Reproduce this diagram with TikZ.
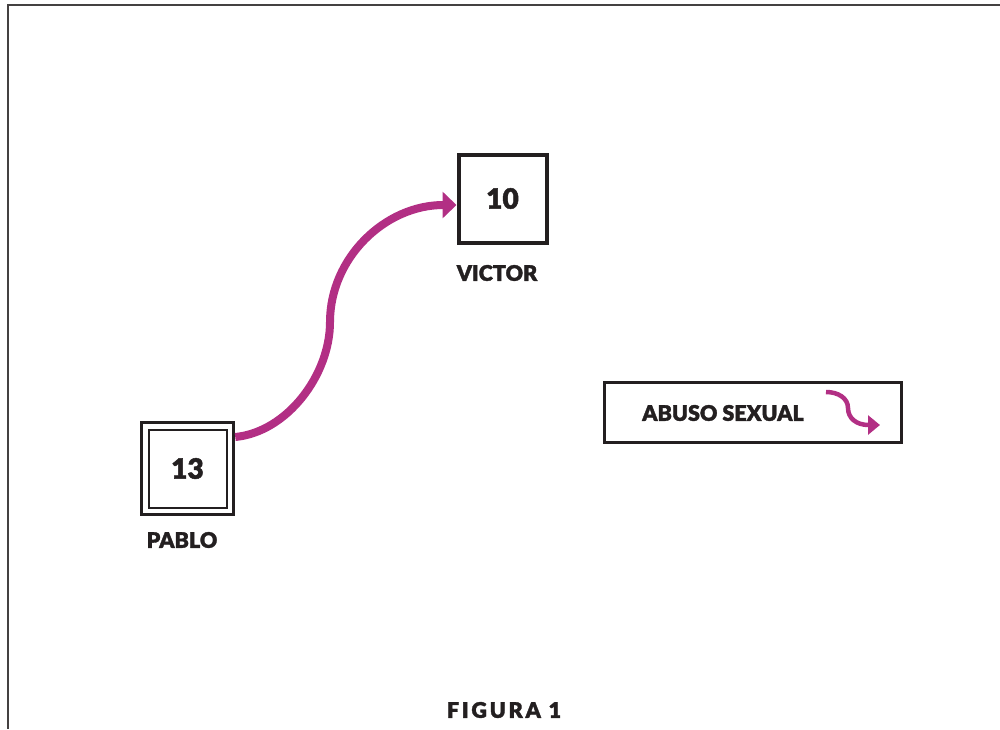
\documentclass[tikz,border=0pt]{standalone}
\usepackage{fontspec}
\setmainfont{Lato}[BoldFont={Lato Black}, BoldFeatures={FakeBold=1.6}]
\usetikzlibrary{arrows.meta}
\definecolor{ink}{HTML}{231F20}
\definecolor{abuse}{HTML}{B22F84}
\tikzset{
  person/.style={draw=ink, line width=4pt, minimum size=88pt, inner sep=0pt,
    font=\bfseries\fontsize{28}{33}\selectfont, text=ink},
  plabel/.style={font=\bfseries\fontsize{21.5}{26}\selectfont, text=ink, inner sep=0pt},
  abusearrow/.style={draw=abuse, line width=8pt, -{Triangle[length=14pt,width=26pt]}},
  smallabuse/.style={draw=abuse, line width=4.5pt, -{Triangle[length=12pt,width=19pt]}},
}
\begin{document}
\begin{tikzpicture}[x=1pt,y=-1pt]
  \useasboundingbox (0,0) rectangle (1000,729);
  % page frame (open at the right and bottom)
  \draw[draw=ink!85, line width=2pt] (1000,5) -- (8,5) -- (8,729);

  % Victor
  \node[person] (victor) at (502.5,198.5) {10};
  \node[plabel] (victorname) at (497,273) {VICTOR};

  % Pablo: double-bordered square
  \node[person, line width=3.5pt, minimum size=92pt] (pablo) at (187.5,468.5) {};
  \node[draw=ink, line width=2pt, minimum size=78pt, inner sep=0pt,
        font=\bfseries\fontsize{28}{33}\selectfont, text=ink] (pabloin) at (pablo.center) {13};
  \node[plabel] (pabloname) at (182,540) {PABLO};

  % relation Pablo -> Victor
  \coordinate (mid) at (330,322);
  \draw[abusearrow] (pablo.east |- 0,437)
    .. controls (287,432) and (330,375) .. (mid)
    .. controls (330,258) and (385,205) .. (victor.west |- 0,205);

  % legend
  \node[draw=ink, line width=2.5pt, minimum width=297pt, minimum height=60pt, inner sep=0pt]
    (legend) at (753,412.5) {};
  \node[font=\bfseries\fontsize{21.5}{26}\selectfont, text=ink, inner sep=0pt]
    (legendtext) at (723,413) {ABUSO SEXUAL};
  \coordinate (ls) at (826,392);
  \coordinate (le) at (880,425);
  \draw[smallabuse] (ls) .. controls (838,392) and (848,398) .. (848,408)
    .. controls (848,418) and (856,425) .. (le);

  % caption
  \node[font=\bfseries\fontsize{21.5}{25}\selectfont, text=ink, inner sep=0pt]
    (caption) at (504,710) {\addfontfeatures{LetterSpace=13}FIGURA 1};
\end{tikzpicture}
\end{document}
